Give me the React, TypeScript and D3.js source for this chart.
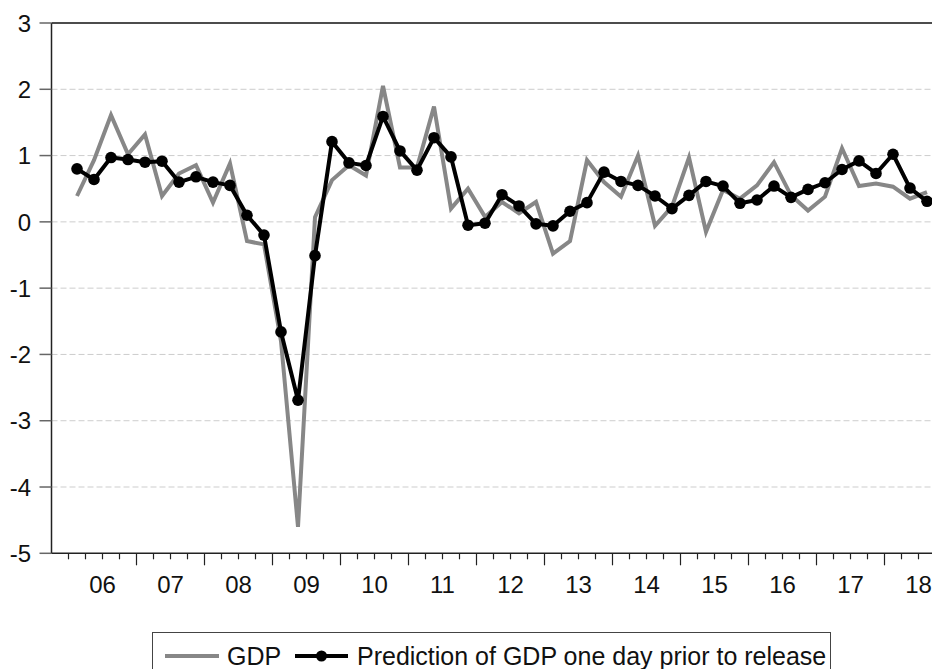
import React from "react";
import * as d3 from "d3";

// Quarterly GDP growth (%, q/q) from 2006Q1 to 2018Q3
const gdp = [
  0.39, 0.93, 1.61, 1.02, 1.32, 0.39, 0.73, 0.855, 0.29, 0.88,
  -0.29, -0.34, -1.8, -4.6, 0.07, 0.63, 0.855, 0.7, 2.05, 0.82,
  0.82, 1.74, 0.2, 0.5, 0.075, 0.3, 0.13, 0.3, -0.48, -0.29,
  0.93, 0.6, 0.38, 1.0, -0.06, 0.23, 0.97, -0.15, 0.48, 0.35,
  0.55, 0.9, 0.4, 0.17, 0.38, 1.11, 0.54, 0.58, 0.53, 0.35, 0.45,
];

// Prediction of GDP one day prior to its release, same quarters
const prediction = [
  0.8, 0.64, 0.97, 0.94, 0.9, 0.915, 0.6, 0.68, 0.6, 0.55,
  0.1, -0.2, -1.66, -2.69, -0.51, 1.21, 0.89, 0.85, 1.59, 1.07,
  0.78, 1.27, 0.98, -0.05, -0.02, 0.41, 0.24, -0.03, -0.06, 0.16,
  0.29, 0.75, 0.61, 0.55, 0.39, 0.2, 0.4, 0.61, 0.54, 0.28,
  0.33, 0.54, 0.37, 0.49, 0.59, 0.79, 0.92, 0.73, 1.02, 0.51, 0.31,
];

const yearLabels = ["06", "07", "08", "09", "10", "11", "12", "13", "14", "15", "16", "17", "18"];
const yTicks = [-5, -4, -3, -2, -1, 0, 1, 2, 3];
const legendLabels = ["GDP", "Prediction of GDP one day prior to release"];

const W = 932;
const H = 669;
const FONT = "'Liberation Sans', Arial, sans-serif";

export default function App() {
  const x = d3.scaleLinear().domain([2005.75, 2019.5]).range([51.5, 51.5 + 68 * 13.75]);
  const y = d3.scaleLinear().domain([-5, 3]).range([553.3, 23]);

  const tOf = (i: number) => 2006 + i / 4 + 0.125;
  const line = d3
    .line<number>()
    .x((_, i) => x(tOf(i)))
    .y((d) => y(d));

  const quarterTicks = d3.range(2006, 2019.5 + 0.001, 0.25);
  const left = x(2005.75);
  const bottom = y(-5);

  return (
    <svg
      width={W}
      height={H}
      style={{ position: "absolute", left: 0, top: 0, background: "#fff" }}
      fontFamily={FONT}
    >
      <rect width={W} height={H} fill="#fff" />

      {/* horizontal grid */}
      {yTicks
        .filter((v) => v > -5 && v < 3)
        .map((v) => (
          <line
            key={"g" + v}
            x1={left}
            x2={W}
            y1={y(v)}
            y2={y(v)}
            stroke="#cdcdcd"
            strokeWidth={1}
            strokeDasharray="6,3"
          />
        ))}

      {/* top frame */}
      <line x1={left} x2={W} y1={y(3)} y2={y(3)} stroke="#111" strokeWidth={1.5} />

      {/* y axis */}
      <line x1={left} x2={left} y1={y(3)} y2={bottom} stroke="#222" strokeWidth={1.5} />
      {yTicks.map((v) => (
        <g key={"yt" + v}>
          <line x1={left - 12} x2={left} y1={y(v)} y2={y(v)} stroke="#666" strokeWidth={1.5} />
          <text
            x={31}
            y={y(v)}
            dy="0.36em"
            textAnchor="end"
            fontSize={24}
            fill="#111"
          >
            {v}
          </text>
        </g>
      ))}

      {/* x axis */}
      <line x1={left} x2={W} y1={bottom} y2={bottom} stroke="#222" strokeWidth={1.5} />
      {quarterTicks.map((t) => {
        const major = Math.abs(t - Math.round(t)) < 1e-6 && t >= 2007;
        return (
          <line
            key={"xt" + t}
            x1={x(t)}
            x2={x(t)}
            y1={bottom}
            y2={bottom + (major ? 12 : 6)}
            stroke="#222"
            strokeWidth={1.2}
          />
        );
      })}
      {yearLabels.map((lab, i) => (
        <text
          key={"xl" + lab}
          x={x(2006 + i + 0.5)}
          y={593}
          textAnchor="middle"
          fontSize={24}
          fill="#111"
        >
          {lab}
        </text>
      ))}

      {/* series */}
      <path d={line(gdp) ?? ""} fill="none" stroke="#878787" strokeWidth={4} strokeLinejoin="miter" />
      <path d={line(prediction) ?? ""} fill="none" stroke="#000" strokeWidth={4} strokeLinejoin="round" />
      {prediction.map((v, i) => (
        <circle key={"p" + i} cx={x(tOf(i))} cy={y(v)} r={5.8} fill="#000" />
      ))}

      {/* legend */}
      <rect x={152.5} y={632.5} width={678} height={60} fill="#fff" stroke="#444" strokeWidth={1} />
      <line x1={165} x2={219} y1={656} y2={656} stroke="#878787" strokeWidth={4} />
      <text x={227} y={665} fontSize={25} fill="#111">
        {legendLabels[0]}
      </text>
      <line x1={295} x2={348} y1={656} y2={656} stroke="#000" strokeWidth={4} />
      <circle cx={321.5} cy={656} r={5.5} fill="#000" />
      <text x={357} y={665} fontSize={25} fill="#111">
        {legendLabels[1]}
      </text>
    </svg>
  );
}
